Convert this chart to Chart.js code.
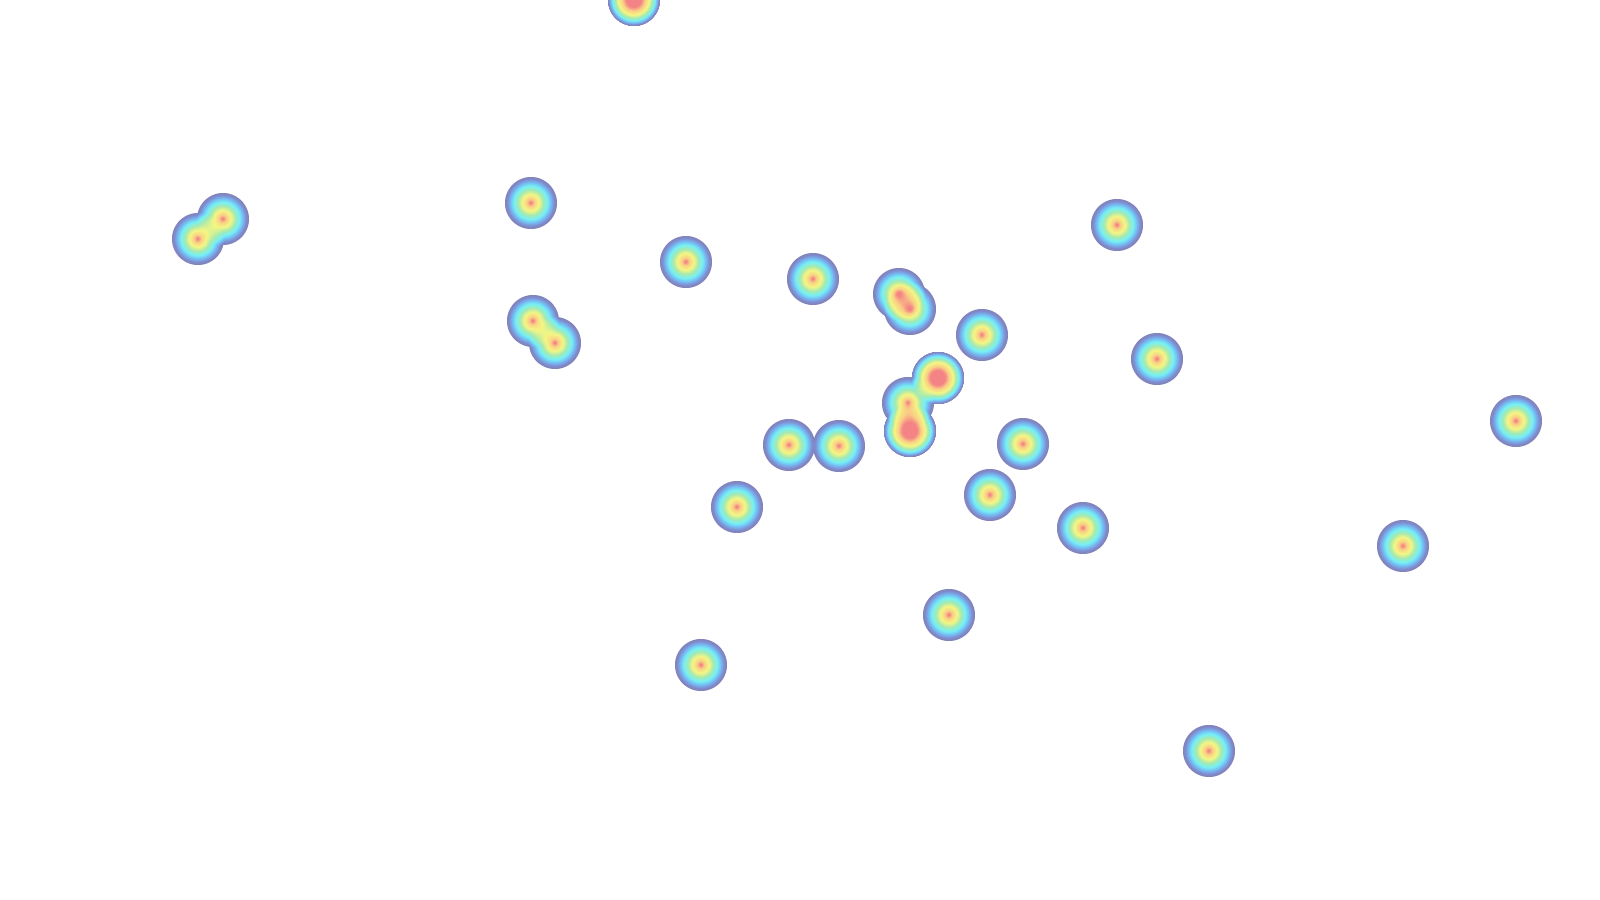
<!DOCTYPE html>
<html>
<head>
<meta charset="utf-8">
<script src="https://cdn.jsdelivr.net/npm/chart.js@4.4.1/dist/chart.umd.min.js"></script>
<style>
html,body{margin:0;padding:0;background:#ffffff;}
#wrap{width:1600px;height:900px;}
</style>
</head>
<body>
<div id="wrap"><canvas id="c" width="1600" height="900"></canvas></div>
<script>
// Point positions (plot units, 0..1600 across, 0..900 down) and point counts
const xValues = [634, 198, 223, 531, 686, 813, 899, 910, 982, 1117, 1157, 1516, 533, 555, 938, 908, 910, 789, 839, 1023, 737, 990, 1083, 1403, 949, 701, 1209];
const yValues = [0, 239, 219, 203, 262, 279, 294, 309, 335, 225, 359, 421, 321, 343, 378, 403, 431, 445, 446, 444, 507, 495, 528, 546, 615, 665, 751];
const counts  = [2, 1, 1, 1, 1, 1, 1, 1, 1, 1, 1, 1, 1, 1, 2, 1, 2, 1, 1, 1, 1, 1, 1, 1, 1, 1, 1];

const xRange = [0, 1600];
const yRange = [0, 900];

const points = xValues.map((x, i) => ({x: x, y: yValues[i], n: counts[i]}));

const RADIUS = 26.5;
const OPACITY = 0.54;
const PEAK = 0.9;
const stops = [
  [0.00, [20, 20, 115]],
  [0.10, [20, 40, 160]],
  [0.20, [0, 120, 230]],
  [0.33, [0, 228, 238]],
  [0.47, [90, 215, 110]],
  [0.62, [235, 238, 25]],
  [0.77, [245, 165, 30]],
  [0.88, [235, 25, 30]],
  [1.00, [235, 25, 30]]
];
function buildLUT() {
  const lut = [];
  for (let i = 0; i < 256; i++) {
    const t = i / 255;
    let k = 0;
    while (k < stops.length - 2 && t > stops[k + 1][0]) k++;
    const a = stops[k], b = stops[k + 1];
    const f = Math.max(0, Math.min(1, (t - a[0]) / (b[0] - a[0])));
    lut.push([0, 1, 2].map(j => Math.round(a[1][j] + (b[1][j] - a[1][j]) * f)));
  }
  return lut;
}
const LUT = buildLUT();

const heatPlugin = {
  id: 'heat',
  afterDatasetsDraw(chart) {
    const xs = chart.scales.x, ys = chart.scales.y;
    const W = chart.width, H = chart.height;
    // remaining transparency (1 - alpha), composited like stacked layers
    const trans = new Float32Array(W * H).fill(1);
    const data = chart.data.datasets[0].data;
    data.forEach((p) => {
      const cx = xs.getPixelForValue(p.x), cy = ys.getPixelForValue(p.y);
      const r = RADIUS;
      const x0 = Math.max(0, Math.floor(cx - r - 1)), x1 = Math.min(W - 1, Math.ceil(cx + r + 1));
      const y0 = Math.max(0, Math.floor(cy - r - 1)), y1 = Math.min(H - 1, Math.ceil(cy + r + 1));
      for (let y = y0; y <= y1; y++) {
        for (let x = x0; x <= x1; x++) {
          const d = Math.hypot(x + 0.5 - cx, y + 0.5 - cy);
          if (d < r) {
            const a = PEAK * (1 - d / r);
            trans[y * W + x] *= Math.pow(1 - a, p.n);
          }
        }
      }
    });
    const off = document.createElement('canvas');
    off.width = W; off.height = H;
    const octx = off.getContext('2d');
    const img = octx.createImageData(W, H);
    for (let i = 0; i < W * H; i++) {
      const v = 1 - trans[i];
      if (v <= 0) continue;
      const idx = Math.min(255, Math.round(v * 255));
      const c = LUT[idx];
      const edge = Math.min(1, v / 0.03);
      img.data[i * 4] = c[0];
      img.data[i * 4 + 1] = c[1];
      img.data[i * 4 + 2] = c[2];
      img.data[i * 4 + 3] = Math.round(255 * OPACITY * edge);
    }
    octx.putImageData(img, 0, 0);
    chart.ctx.drawImage(off, 0, 0);
  }
};

new Chart(document.getElementById('c'), {
  type: 'scatter',
  data: {
    datasets: [{
      label: 'heat',
      data: points,
      pointRadius: 0,
      pointHoverRadius: 0
    }]
  },
  options: {
    responsive: false,
    devicePixelRatio: 1,
    animation: false,
    layout: {padding: 0},
    plugins: {legend: {display: false}, tooltip: {enabled: false}},
    scales: {
      x: {type: 'linear', min: xRange[0], max: xRange[1], display: false},
      y: {type: 'linear', min: yRange[0], max: yRange[1], reverse: true, display: false}
    }
  },
  plugins: [heatPlugin]
});
</script>
</body>
</html>
